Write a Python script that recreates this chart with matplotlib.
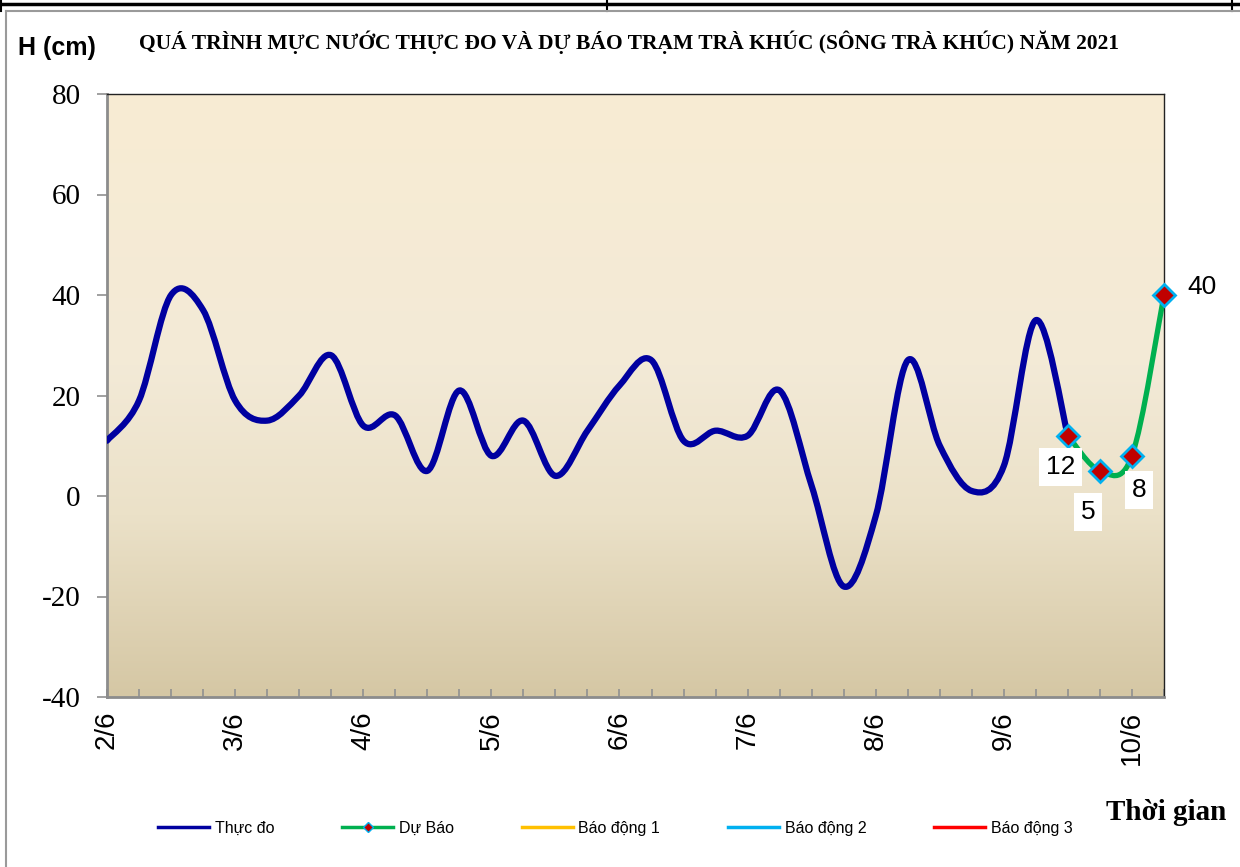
import numpy as np
import matplotlib.pyplot as plt
from matplotlib.path import Path
from matplotlib.patches import PathPatch
from matplotlib.lines import Line2D
from matplotlib.colors import LinearSegmentedColormap

plt.rcParams['axes.unicode_minus'] = False

# water level (cm), one value every 6 hours starting 2/6
obs_h = [11, 19, 40, 37, 19, 15, 20, 28, 14, 16, 5, 21, 8, 15, 4, 13,
         22, 27, 11, 13, 12, 21, 2, -18, -4, 27, 10, 1, 6, 35, 12]
fc_h = [12, 5, 8, 40]
fc_start = 30
day_labels = ['2/6', '3/6', '4/6', '5/6', '6/6', '7/6', '8/6', '9/6', '10/6']
legend_labels = ['Thực đo', 'Dự Báo', 'Báo động 1', 'Báo động 2', 'Báo động 3']

obs_x = np.arange(len(obs_h))
fc_x = np.arange(fc_start, fc_start + len(fc_h))

W, H = 1240, 867
fig = plt.figure(figsize=(12.4, 8.67), dpi=100)
ax = fig.add_axes([107 / W, 1 - 697 / H, (1164 - 107) / W, (697 - 94) / H])

# plot area gradient, light at top and tan at the bottom
cmap = LinearSegmentedColormap.from_list(
    'parch', [(0, '#f8ecd3'), (0.45, '#f3ead7'), (0.7, '#ebe1c8'), (1, '#d5c7a4')])
grad = np.linspace(0, 1, 256).reshape(-1, 1)
ax.imshow(grad, extent=[0, 33, -40, 80], origin='upper', aspect='auto',
          cmap=cmap, zorder=0)


def smooth_path(x, y):
    # excel style smoothed line: cubic bezier through each point
    p = np.column_stack([x, y]).astype(float)
    n = len(p)
    verts = [p[0]]
    codes = [Path.MOVETO]
    for i in range(n - 1):
        pm = p[i - 1] if i > 0 else p[i]
        pp = p[i + 2] if i + 2 < n else p[i + 1]
        c1 = p[i] + (p[i + 1] - pm) / 6
        c2 = p[i + 1] - (pp - p[i]) / 6
        verts += [c1, c2, p[i + 1]]
        codes += [Path.CURVE4] * 3
    return Path(verts, codes)


ax.add_patch(PathPatch(smooth_path(obs_x, obs_h), fill=False, edgecolor='#0000a0',
                       lw=4.5, capstyle='round', joinstyle='round', zorder=3))
ax.add_patch(PathPatch(smooth_path(fc_x, fc_h), fill=False, edgecolor='#00b050',
                       lw=3.8, capstyle='round', joinstyle='round', zorder=4))
ax.plot(fc_x, fc_h, ls='none', marker='D', ms=11, mfc='#c00000', mec='#00b0f0',
        mew=2, zorder=5, clip_on=False)

label_offsets = [(-7, -31), (-12, -41), (7, -34), (38, 8)]
for x, y, off in zip(fc_x, fc_h, label_offsets):
    box = dict(facecolor='white', edgecolor='none', pad=5) if y != fc_h[-1] else None
    ax.annotate(str(y), (x, y), xytext=off, textcoords='offset pixels', ha='center',
                va='center', fontsize=19, family='Liberation Sans', bbox=box, zorder=6,
                annotation_clip=False)

ax.set_xlim(0, 33)
ax.set_ylim(-40, 80)
ax.set_yticks(range(-40, 81, 20))
ax.set_xticks(range(0, 33, 4))
ax.set_xticklabels(day_labels, rotation=90, family='Liberation Sans', fontsize=20, va='top')
ax.set_xticks(range(0, 34), minor=True)
ax.tick_params(axis='x', which='both', direction='in', length=6, width=1.2,
               color='#909090', pad=10)
ax.tick_params(axis='y', direction='out', length=7, width=1.2, color='#909090', pad=12)
for t in ax.get_yticklabels():
    t.set_family('Liberation Serif')
    t.set_fontsize(21)
for s in ['left', 'bottom']:
    ax.spines[s].set_color('#8c8c8c')
    ax.spines[s].set_linewidth(2)
for s in ['top', 'right']:
    ax.spines[s].set_color('#222222')
    ax.spines[s].set_linewidth(1)

fig.text(629 / W, 1 - 42 / H,
         'QUÁ TRÌNH MỰC NƯỚC THỰC ĐO VÀ DỰ BÁO TRẠM TRÀ KHÚC (SÔNG TRÀ KHÚC) NĂM 2021',
         ha='center', va='center', family='Liberation Serif', weight='bold', fontsize=15.5)
fig.text(18 / W, 1 - 48 / H, 'H (cm)', ha='left', va='center',
         family='Liberation Sans', weight='bold', fontsize=18)
fig.text(1226 / W, 1 - 813 / H, 'Thời gian', ha='right', va='center',
         family='Liberation Serif', weight='bold', fontsize=21)

handles = [
    Line2D([], [], color='#0000a0', lw=2.5),
    Line2D([], [], color='#00b050', lw=2.5, marker='D', ms=5, mfc='#c00000', mec='#00b0f0'),
    Line2D([], [], color='#ffc000', lw=2.5),
    Line2D([], [], color='#00b0f0', lw=2.5),
    Line2D([], [], color='#ff0000', lw=2.5),
]
fig.legend(handles, legend_labels, loc='center left', bbox_to_anchor=(158 / W, 1 - 828 / H),
           ncol=5, frameon=False, handlelength=3.2, handletextpad=0.35,
           columnspacing=4.25, borderpad=0, borderaxespad=0,
           prop={'family': 'Liberation Sans', 'size': 11.5})


# page frame lines around the chart
def fig_line(x0, y0, x1, y1, **kw):
    fig.add_artist(Line2D([x0 / W, x1 / W], [1 - y0 / H, 1 - y1 / H],
                          transform=fig.transFigure, **kw))


fig_line(0, 3.5, W, 3.5, color='black', lw=2.5)
for xv in [1, 607, 1232]:
    fig_line(xv, 0, xv, 11, color='black', lw=1.5)
fig_line(6, 11, W, 11, color='#9a9a9a', lw=1.5)
fig_line(6, 11, 6, H, color='#9a9a9a', lw=1.5)

fig.savefig('out.png', dpi=100)
